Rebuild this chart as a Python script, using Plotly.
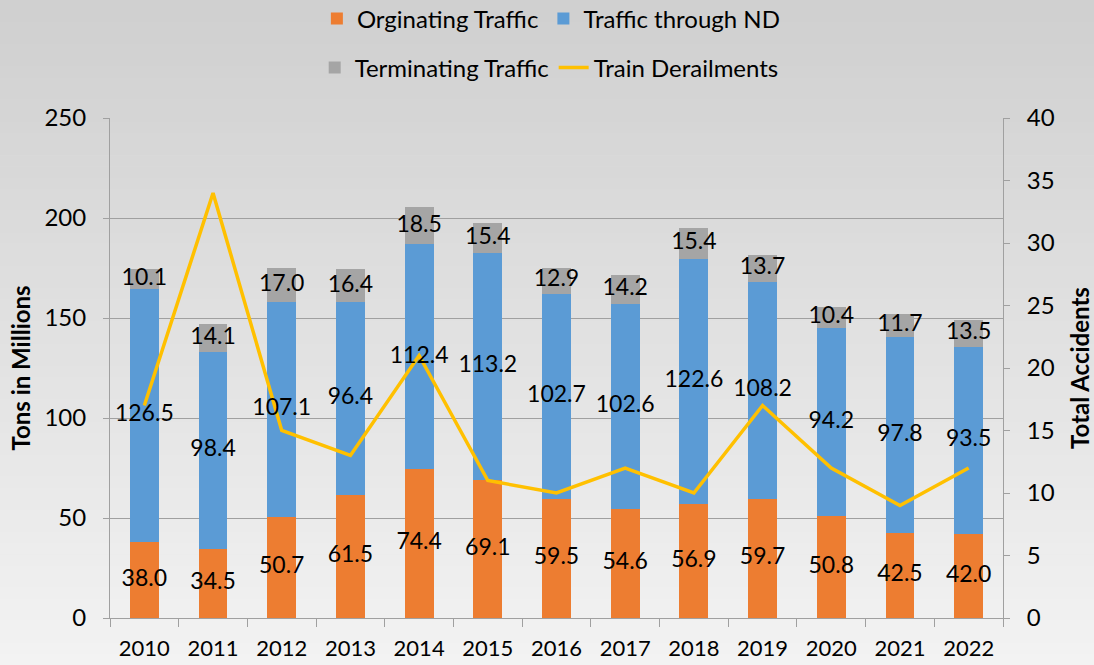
import plotly.graph_objects as go

years = ["2010", "2011", "2012", "2013", "2014", "2015", "2016", "2017", "2018", "2019", "2020", "2021", "2022"]
originating = [38.0, 34.5, 50.7, 61.5, 74.4, 69.1, 59.5, 54.6, 56.9, 59.7, 50.8, 42.5, 42.0]
through_nd = [126.5, 98.4, 107.1, 96.4, 112.4, 113.2, 102.7, 102.6, 122.6, 108.2, 94.2, 97.8, 93.5]
terminating = [10.1, 14.1, 17.0, 16.4, 18.5, 15.4, 12.9, 14.2, 15.4, 13.7, 10.4, 11.7, 13.5]
derailments = [17, 34, 15, 13, 21, 11, 10, 12, 10, 17, 12, 9, 12]

FONT = "Lato"
C_OR = "#ED7D31"
C_BL = "#5B9BD5"
C_GR = "#A5A5A5"
C_LN = "#FFC000"

fig = go.Figure()
fig.add_trace(go.Bar(x=years, y=originating, name="Orginating Traffic", marker=dict(color=C_OR, line=dict(width=0)), legend="legend"))
fig.add_trace(go.Bar(x=years, y=through_nd, name="Traffic through ND", marker=dict(color=C_BL, line=dict(width=0)), legend="legend"))
fig.add_trace(go.Bar(x=years, y=terminating, name="Terminating Traffic", marker=dict(color=C_GR, line=dict(width=0)), legend="legend2"))
fig.add_trace(go.Scatter(x=years, y=derailments, name="Train Derailments", mode="lines", line=dict(color=C_LN, width=3.5), yaxis="y2", legend="legend2"))

# data labels centred in each segment
mid_or = [o / 2 for o in originating]
mid_bl = [o + t / 2 for o, t in zip(originating, through_nd)]
mid_gr = [o + t + m / 2 for o, t, m in zip(originating, through_nd, terminating)]
for mids, vals in [(mid_or, originating), (mid_bl, through_nd), (mid_gr, terminating)]:
    fig.add_trace(go.Scatter(x=years, y=mids, mode="text", text=[f"{v:.1f}" for v in vals],
                             textfont=dict(family=FONT, size=23, color="#000000"),
                             textposition="middle center", showlegend=False, yaxis="y3", hoverinfo="skip"))

# background gradient
shapes = []
N = 60
H = 665
for i in range(N):
    p0 = H * i / N
    p1 = H * (i + 1) / N + 0.6
    t = i / (N - 1)
    c = int(208 + (243 - 208) * t)
    shapes.append(dict(type="rect", xref="paper", yref="paper", x0=-0.2, x1=1.2,
                       y0=(618 - p1) / 500, y1=(618 - p0) / 500, layer="below",
                       line=dict(width=0), fillcolor=f"rgb({c},{c},{c})"))

grid = "#A0A0A0"
legfont = dict(family=FONT, size=24, color="#000000")
fig.update_layout(
    width=1094, height=665,
    margin=dict(l=110, r=91, t=118, b=47, autoexpand=False),
    barmode="stack", bargap=0.58,
    paper_bgcolor="#e0e0e0", plot_bgcolor="rgba(0,0,0,0)",
    shapes=shapes,
    font=dict(family=FONT, size=22, color="#000000"),
    showlegend=True,
    legend=dict(orientation="h", x=0.504, xanchor="center", xref="container",
                y=1 - 19 / H, yanchor="middle", yref="container",
                font=legfont, bgcolor="rgba(0,0,0,0)", traceorder="normal", itemwidth=30),
    legend2=dict(orientation="h", x=0.502, xanchor="center", xref="container",
                 y=1 - 68 / H, yanchor="middle", yref="container",
                 font=legfont, bgcolor="rgba(0,0,0,0)", traceorder="normal", itemwidth=30),
    xaxis=dict(type="category", range=[-0.5, len(years) - 0.5], tickson="boundaries",
               ticks="outside", ticklen=8, tickcolor=grid,
               showline=True, linecolor=grid, linewidth=1, showgrid=False,
               tickfont=dict(size=22), ticklabelstandoff=11, mirror=False),
    yaxis=dict(range=[0, 250], dtick=50, showgrid=True, gridcolor=grid, gridwidth=1,
               ticks="outside", ticklen=6, tickcolor=grid, showline=True, linecolor=grid,
               zeroline=False, tickfont=dict(size=24), ticklabelstandoff=12,
               title=dict(text="<b>Tons in Millions</b>", font=dict(size=24), standoff=7)),
    yaxis2=dict(range=[0, 40], dtick=5, overlaying="y", side="right", showgrid=False,
                ticks="outside", ticklen=6, tickcolor=grid, showline=True, linecolor=grid,
                zeroline=False, tickfont=dict(size=24), ticklabelstandoff=12,
                title=dict(text="<b>Total Accidents</b>", font=dict(size=24), standoff=18)),
    yaxis3=dict(range=[0, 250], overlaying="y", visible=False),
)

fig.write_html("out.html", config={"displayModeBar": False},
               post_script="document.body.style.margin='0';document.body.style.padding='0';")
